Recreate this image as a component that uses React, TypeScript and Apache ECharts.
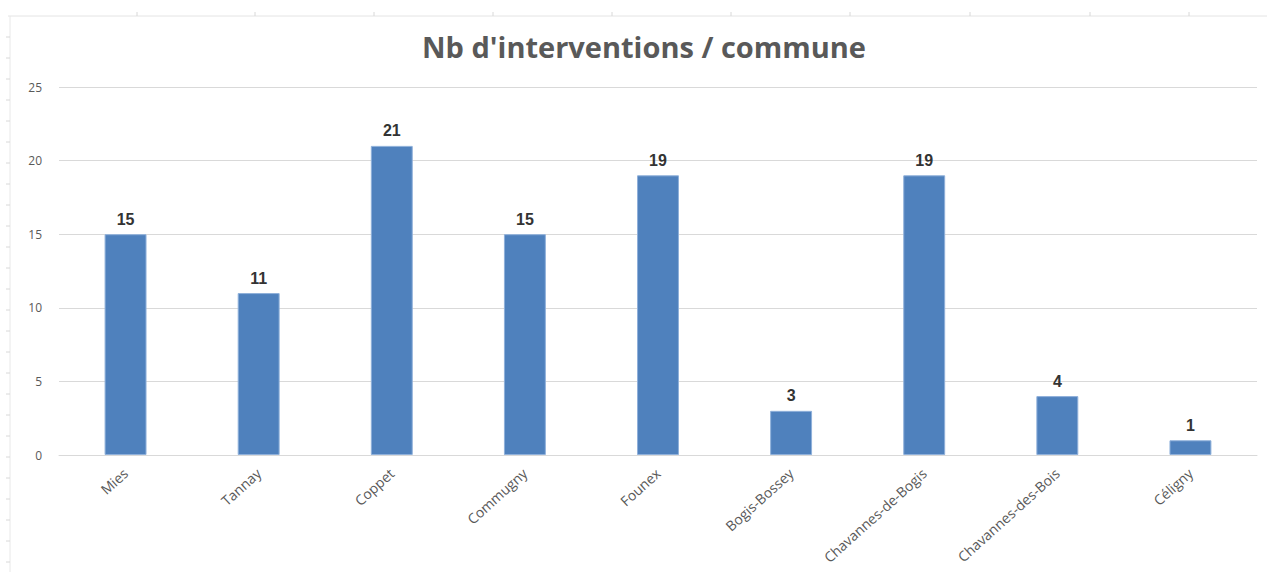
import React, { useEffect, useRef } from "react";
import * as echarts from "echarts";

const categories = [
  "Mies",
  "Tannay",
  "Coppet",
  "Commugny",
  "Founex",
  "Bogis-Bossey",
  "Chavannes-de-Bogis",
  "Chavannes-des-Bois",
  "Céligny",
];
const interventions = [15, 11, 21, 15, 19, 3, 19, 4, 1];
const yTicks = { min: 0, max: 25, interval: 5 };
const titleText = "Nb d'interventions / commune";

export default function App() {
  const ref = useRef<HTMLDivElement>(null);
  useEffect(() => {
    if (!ref.current) return;
    const chart = echarts.init(ref.current, null, { renderer: "svg" });

    const topTicks = [137, 255, 374, 493, 612, 731, 850, 970, 1090, 1189];
    const leftTicks: number[] = [];
    for (let y = 37; y < 572; y += 21) leftTicks.push(y);
    const deco: any[] = [
      { type: "line", shape: { x1: 8, y1: 16, x2: 1267, y2: 16 }, style: { stroke: "#e4e4e4", lineWidth: 1 } },
      { type: "line", shape: { x1: 10, y1: 16, x2: 10, y2: 572 }, style: { stroke: "#e8e8e8", lineWidth: 1 } },
      ...topTicks.map((x) => ({ type: "line", shape: { x1: x, y1: 12, x2: x, y2: 16 }, style: { stroke: "#d8d8d8", lineWidth: 1 } })),
      ...leftTicks.map((y) => ({ type: "line", shape: { x1: 6, y1: y, x2: 10, y2: y }, style: { stroke: "#d8d8d8", lineWidth: 1 } })),
    ];

    chart.setOption({
      animation: false,
      backgroundColor: "#ffffff",
      title: {
        text: titleText,
        left: 417,
        top: 27,
        textStyle: {
          fontFamily: "Open Sans, sans-serif",
          fontSize: 29,
          fontWeight: "bold",
          color: "#595959",
        },
      },
      graphic: deco,
      grid: { left: 59, right: 10, top: 87, bottom: 117, containLabel: false },
      xAxis: {
        type: "category",
        data: categories,
        axisLine: { lineStyle: { color: "#d9d9d9" } },
        axisTick: { show: false },
        axisLabel: {
          rotate: 42,
          interval: 0,
          color: "#595959",
          fontSize: 14,
          fontFamily: "Open Sans, sans-serif",
          margin: 16,
        },
      },
      yAxis: {
        type: "value",
        min: yTicks.min,
        max: yTicks.max,
        interval: yTicks.interval,
        axisLine: { show: false },
        axisTick: { show: false },
        splitLine: { lineStyle: { color: "#d9d9d9" } },
        axisLabel: {
          color: "#595959",
          fontSize: 12,
          margin: 17,
          fontFamily: "Open Sans, sans-serif",
        },
      },
      series: [
        {
          type: "bar",
          data: interventions,
          barWidth: "31.5%",
          itemStyle: { color: "#4f81bd", borderColor: "#8fb0da", borderWidth: 1 },
          label: {
            show: true,
            position: "top",
            distance: 7,
            color: "#333333",
            fontSize: 16,
            fontWeight: "bold",
            fontFamily: "Liberation Sans, Arial, sans-serif",
          },
        },
      ],
    });
    return () => chart.dispose();
  }, []);
  return (
    <div
      ref={ref}
      style={{ position: "fixed", left: 0, top: 0, width: 1267, height: 572 }}
    />
  );
}
